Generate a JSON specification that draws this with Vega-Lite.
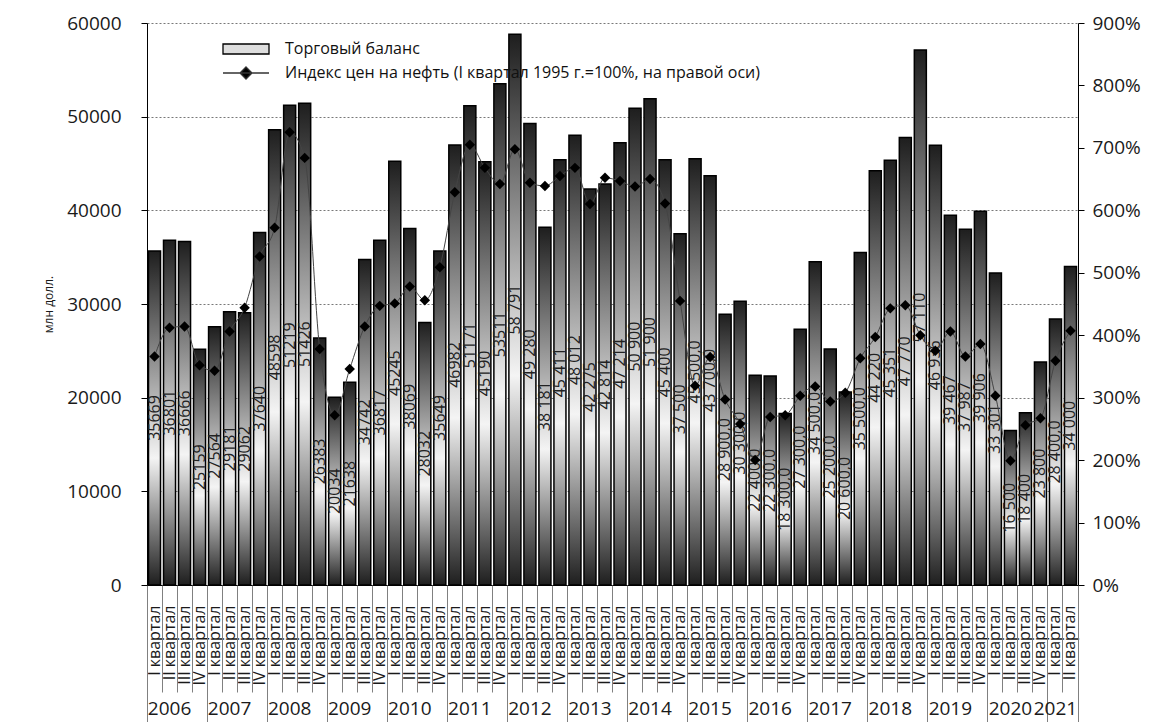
{
  "$schema": "https://vega.github.io/schema/vega-lite/v6.json",
  "width": 931,
  "height": 562,
  "autosize": {"type": "none"},
  "padding": {"left": 147, "top": 23, "right": 79, "bottom": 137},
  "background": "white",
  "config": {
    "view": {"stroke": null},
    "font": "Open Sans",
    "axis": {"labelFont": "Open Sans", "titleFont": "Open Sans", "labelColor": "#1a1a1a", "titleColor": "#1a1a1a"},
    "legend": {"labelFont": "Open Sans"}
  },
  "datasets": {
    "legend": [
      {"series": "Торговый баланс"},
      {"series": "Индекс цен на нефть (I квартал 1995 г.=100%, на правой оси)"}
    ]
  },
  "data": {"values": [
    {"k":"2006 I","v":35669,"lbl":"35669","oil":366},
    {"k":"2006 II","v":36801,"lbl":"36801","oil":412},
    {"k":"2006 III","v":36666,"lbl":"36666","oil":414},
    {"k":"2006 IV","v":25159,"lbl":"25159","oil":352},
    {"k":"2007 I","v":27564,"lbl":"27564","oil":343},
    {"k":"2007 II","v":29181,"lbl":"29181","oil":406},
    {"k":"2007 III","v":29062,"lbl":"29062","oil":444},
    {"k":"2007 IV","v":37640,"lbl":"37640","oil":526},
    {"k":"2008 I","v":48598,"lbl":"48598","oil":572},
    {"k":"2008 II","v":51219,"lbl":"51219","oil":725},
    {"k":"2008 III","v":51426,"lbl":"51426","oil":684},
    {"k":"2008 IV","v":26383,"lbl":"26383","oil":378},
    {"k":"2009 I","v":20034,"lbl":"20034","oil":272},
    {"k":"2009 II","v":21638,"lbl":"21638","oil":346},
    {"k":"2009 III","v":34742,"lbl":"34742","oil":414},
    {"k":"2009 IV","v":36817,"lbl":"36817","oil":447},
    {"k":"2010 I","v":45245,"lbl":"45245","oil":451},
    {"k":"2010 II","v":38069,"lbl":"38069","oil":478},
    {"k":"2010 III","v":28032,"lbl":"28032","oil":456},
    {"k":"2010 IV","v":35649,"lbl":"35649","oil":509},
    {"k":"2011 I","v":46982,"lbl":"46982","oil":629},
    {"k":"2011 II","v":51171,"lbl":"51171","oil":705},
    {"k":"2011 III","v":45190,"lbl":"45190","oil":668},
    {"k":"2011 IV","v":53511,"lbl":"53511","oil":642},
    {"k":"2012 I","v":58791,"lbl":"58 791","oil":698},
    {"k":"2012 II","v":49280,"lbl":"49 280","oil":644},
    {"k":"2012 III","v":38181,"lbl":"38 181","oil":639},
    {"k":"2012 IV","v":45411,"lbl":"45 411","oil":655},
    {"k":"2013 I","v":48012,"lbl":"48 012","oil":668},
    {"k":"2013 II","v":42275,"lbl":"42 275","oil":610},
    {"k":"2013 III","v":42814,"lbl":"42 814","oil":652},
    {"k":"2013 IV","v":47214,"lbl":"47 214","oil":647},
    {"k":"2014 I","v":50900,"lbl":"50 900","oil":638},
    {"k":"2014 II","v":51900,"lbl":"51 900","oil":650},
    {"k":"2014 III","v":45400,"lbl":"45 400","oil":611},
    {"k":"2014 IV","v":37500,"lbl":"37 500","oil":455},
    {"k":"2015 I","v":45500,"lbl":"45 500,0","oil":319},
    {"k":"2015 II","v":43700,"lbl":"43 700,0","oil":365},
    {"k":"2015 III","v":28900,"lbl":"28 900,0","oil":297},
    {"k":"2015 IV","v":30300,"lbl":"30 300,0","oil":258},
    {"k":"2016 I","v":22400,"lbl":"22 400,0","oil":200},
    {"k":"2016 II","v":22300,"lbl":"22 300,0","oil":269},
    {"k":"2016 III","v":18300,"lbl":"18 300,0","oil":272},
    {"k":"2016 IV","v":27300,"lbl":"27 300,0","oil":303},
    {"k":"2017 I","v":34500,"lbl":"34 500,0","oil":318},
    {"k":"2017 II","v":25200,"lbl":"25 200,0","oil":294},
    {"k":"2017 III","v":20600,"lbl":"20 600,0","oil":308},
    {"k":"2017 IV","v":35500,"lbl":"35 500,0","oil":363},
    {"k":"2018 I","v":44220,"lbl":"44 220","oil":397},
    {"k":"2018 II","v":45351,"lbl":"45 351","oil":443},
    {"k":"2018 III","v":47770,"lbl":"47 770","oil":448},
    {"k":"2018 IV","v":57110,"lbl":"57 110","oil":400},
    {"k":"2019 I","v":46936,"lbl":"46 936","oil":375},
    {"k":"2019 II","v":39467,"lbl":"39 467","oil":406},
    {"k":"2019 III","v":37987,"lbl":"37 987","oil":366},
    {"k":"2019 IV","v":39906,"lbl":"39 906","oil":386},
    {"k":"2020 I","v":33301,"lbl":"33 301","oil":303},
    {"k":"2020 II","v":16500,"lbl":"16 500","oil":199},
    {"k":"2020 III","v":18400,"lbl":"18 400","oil":256},
    {"k":"2020 IV","v":23800,"lbl":"23 800","oil":267},
    {"k":"2021 I","v":28400,"lbl":"28 400,0","oil":359},
    {"k":"2021 II","v":34000,"lbl":"34 000","oil":407}
  ]},
  "layer": [
    {
      "mark": {
        "type": "bar",
        "width": {"band": 0.8},
        "stroke": "black",
        "strokeWidth": 1.5,
        "fill": {"gradient": "linear", "x1": 0, "y1": 0, "x2": 0, "y2": 1,
          "stops": [{"offset": 0, "color": "#1e1e1e"}, {"offset": 0.62, "color": "#f4f4f4"}, {"offset": 1, "color": "#1e1e1e"}]}
      },
      "encoding": {
        "x": {"field": "k", "type": "ordinal", "sort": null,
          "scale": {"paddingInner": 0, "paddingOuter": 0},
          "axis": {"orient": "bottom", "title": null, "ticks": false, "labelAngle": -90, "labelPadding": 20,
            "labelFontSize": 16, "labelExpr": "split(datum.value, ' ')[1] + ' квартал'",
            "domainColor": "black", "domainWidth": 1, "labelOverlap": false, "grid": false}},
        "y": {"field": "v", "type": "quantitative",
          "scale": {"domain": [0, 60000], "nice": false},
          "axis": {"orient": "left", "values": [0, 10000, 20000, 30000, 40000, 50000, 60000], "format": "d",
            "title": "млн долл.", "titleFontSize": 12, "titleFontWeight": "normal", "titlePadding": 11,
            "labelFontSize": 19, "tickSize": 6, "labelPadding": 20, "tickColor": "black",
            "domainColor": "black", "grid": true, "gridDash": [2, 2], "gridColor": "#555", "gridWidth": 0.8}}
      }
    },
    {
      "mark": {"type": "text", "angle": 270, "align": "center", "baseline": "middle", "fontSize": 16, "color": "#222", "font": "Open Sans"},
      "encoding": {
        "x": {"field": "k", "type": "ordinal", "sort": null, "axis": null},
        "y": {"field": "v", "type": "quantitative", "scale": {"domain": [0, 120000], "nice": false}, "axis": null},
        "text": {"field": "lbl"}
      }
    },
    {
      "mark": {"type": "line", "stroke": "#444", "strokeWidth": 1, "interpolate": "monotone",
        "point": {"shape": "diamond", "size": 110, "filled": true, "color": "black"}},
      "encoding": {
        "x": {"field": "k", "type": "ordinal", "sort": null, "axis": null},
        "y": {"field": "oil", "type": "quantitative", "scale": {"domain": [0, 900], "nice": false},
          "axis": {"orient": "right", "values": [0, 100, 200, 300, 400, 500, 600, 700, 800, 900],
            "labelExpr": "datum.value + '%'", "title": null, "grid": false, "labelFontSize": 19,
            "tickSize": 6, "labelPadding": 8, "domainColor": "black", "tickColor": "black"}}
      }
    },
    {
      "mark": {"type": "point", "opacity": 0},
      "encoding": {
        "x": {"field": "k", "type": "ordinal", "sort": null,
          "axis": {"orient": "bottom", "bandPosition": 0, "labels": false, "domain": false, "title": null,
            "ticks": true, "tickColor": "#808080", "tickWidth": 1, "grid": false,
            "tickSize": {"condition": {"test": "length(datum.value) == 6", "value": 137}, "value": 107}}}
      }
    },
    {
      "mark": {"type": "point", "opacity": 0},
      "encoding": {
        "x": {"field": "k", "type": "ordinal", "sort": null,
          "axis": {"orient": "bottom", "bandPosition": 1,
            "values": ["2006 II","2007 II","2008 II","2009 II","2010 II","2011 II","2012 II","2013 II","2014 II","2015 II","2016 II","2017 II","2018 II","2019 II","2020 II","2021 I"],
            "ticks": false, "domain": false, "title": null, "grid": false, "labelAngle": 0, "labelAlign": "center",
            "labelBaseline": "top", "labelPadding": 114, "labelFontSize": 19, "labelOverlap": false,
            "labelExpr": "slice(datum.value, 0, 4)"}}
      }
    },
    {
      "mark": {"type": "point", "opacity": 0},
      "encoding": {
        "x": {"field": "k", "type": "ordinal", "sort": null,
          "axis": {"orient": "bottom", "bandPosition": 1, "values": ["2021 II"], "labels": false, "domain": false,
            "title": null, "grid": false, "ticks": true, "tickSize": 137, "tickColor": "#808080", "tickWidth": 1}}
      }
    },
    {
      "data": {"name": "legend"},
      "mark": {"type": "point", "opacity": 0, "filled": true, "strokeWidth": 1.3},
      "encoding": {
        "shape": {"field": "series", "type": "nominal",
          "scale": {"domain": ["Торговый баланс", "Индекс цен на нефть (I квартал 1995 г.=100%, на правой оси)"],
            "range": ["M-2.3,-0.5H2.3V0.5H-2.3Z", "M-2.3,0H2.3M0,-0.6L0.6,0L0,0.6L-0.6,0Z"]},
          "legend": {"title": null, "orient": "none", "legendX": 88, "legendY": 15, "symbolSize": 400,
            "symbolStrokeWidth": 1.3, "symbolOpacity": 1, "labelFontSize": 16,
            "labelColor": "#111", "labelOffset": 28, "rowPadding": 5, "padding": 0, "labelLimit": 700}},
        "fill": {"field": "series", "type": "nominal",
          "scale": {"domain": ["Торговый баланс", "Индекс цен на нефть (I квартал 1995 г.=100%, на правой оси)"],
            "range": ["#dedede", "black"]},
          "legend": {"title": null, "orient": "none", "legendX": 88, "legendY": 15, "symbolSize": 400,
            "symbolStrokeWidth": 1.3, "symbolOpacity": 1, "labelFontSize": 16,
            "labelColor": "#111", "labelOffset": 28, "rowPadding": 5, "padding": 0, "labelLimit": 700}},
        "stroke": {"field": "series", "type": "nominal",
          "scale": {"domain": ["Торговый баланс", "Индекс цен на нефть (I квартал 1995 г.=100%, на правой оси)"],
            "range": ["black", "#333"]},
          "legend": {"title": null, "orient": "none", "legendX": 88, "legendY": 15, "symbolSize": 400,
            "symbolStrokeWidth": 1.3, "symbolOpacity": 1, "labelFontSize": 16,
            "labelColor": "#111", "labelOffset": 28, "rowPadding": 5, "padding": 0, "labelLimit": 700}}
      }
    }
  ],
  "resolve": {
    "scale": {"y": "independent"},
    "axis": {"x": "independent", "y": "independent"}
  }
}
